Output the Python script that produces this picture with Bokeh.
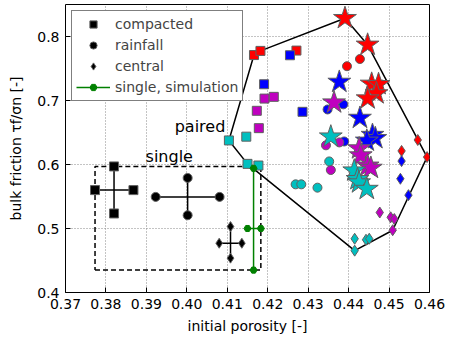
import numpy as np
from bokeh.plotting import figure
from bokeh.models import Range1d, Legend, LegendItem
from bokeh.core.properties import value
from bokeh.embed import file_html
from bokeh.resources import INLINE

# ---------------- data ----------------
colors = {"red": "#ff0000", "blue": "#0000ff", "magenta": "#bf00bf", "cyan": "#00bfbf"}

# paired tests: compacted (squares)
sq_red_x = [0.4166, 0.4182, 0.4271]
sq_red_y = [0.771, 0.7775, 0.778]
sq_blue_x = [0.4255, 0.4191, 0.4286]
sq_blue_y = [0.7707, 0.7254, 0.6823]
sq_mag_x = [0.4192, 0.4215, 0.4173, 0.4178]
sq_mag_y = [0.703, 0.7057, 0.6839, 0.6568]
sq_cyan_x = [0.4147, 0.4104, 0.4150, 0.4177]
sq_cyan_y = [0.6435, 0.6376, 0.601, 0.5984]

# paired tests: rainfall (circles)
ci_red_x = [0.4396, 0.4428]
ci_red_y = [0.7536, 0.7648]
ci_blue_x = [0.4348, 0.4387, 0.4389]
ci_blue_y = [0.686, 0.694, 0.636]
ci_mag_x = [0.4344, 0.4377, 0.4356]
ci_mag_y = [0.630, 0.6345, 0.5914]
ci_cyan_x = [0.4352, 0.4269, 0.4283, 0.4323]
ci_cyan_y = [0.6048, 0.569, 0.569, 0.5638]

# paired tests: central (diamonds)
di_red_x = [0.4571, 0.4531, 0.4594]
di_red_y = [0.6383, 0.6212, 0.6116]
di_blue_x = [0.4531, 0.4528, 0.4548]
di_blue_y = [0.6053, 0.5777, 0.5521]
di_mag_x = [0.4477, 0.4504, 0.4513, 0.4509]
di_mag_y = [0.525, 0.5175, 0.5148, 0.4973]
di_cyan_x = [0.4415, 0.4443, 0.4451, 0.4415]
di_cyan_y = [0.484, 0.4824, 0.484, 0.4654]

# paired simulations (stars)
st_red_x = [0.4391, 0.4447, 0.4457, 0.4474, 0.4469, 0.4447]
st_red_y = [0.8286, 0.787, 0.726, 0.7254, 0.711, 0.703]
st_blue_x = [0.4377, 0.4428, 0.4459, 0.4466, 0.4445]
st_blue_y = [0.729, 0.6727, 0.646, 0.641, 0.637]
st_mag_x = [0.4364, 0.4426, 0.4430, 0.4447, 0.4455]
st_mag_y = [0.6967, 0.625, 0.614, 0.598, 0.5946]
st_cyan_x = [0.4356, 0.4414, 0.4422, 0.4426, 0.4445]
st_cyan_y = [0.6435, 0.5904, 0.577, 0.5718, 0.5617]

# single tests (compacted, rainfall, central): centre and error bounds
single_x = [0.3820, 0.4002, 0.4108]
single_y = [0.5600, 0.5494, 0.4770]
single_x_lo = [0.3773, 0.3923, 0.4080]
single_x_hi = [0.3868, 0.4081, 0.4136]
single_y_lo = [0.5235, 0.5207, 0.4537]
single_y_hi = [0.5970, 0.5790, 0.5030]

# single simulation
sim_x = [0.4165]
sim_y = [0.5000]
sim_x_lo = [0.4150]
sim_x_hi = [0.4183]
sim_y_lo = [0.4350]
sim_y_hi = [0.5940]

label_text = ["paired", "single"]
label_x = [0.3970, 0.3898]
label_y = [0.6600, 0.6120]

x_ticks = [0.37, 0.38, 0.39, 0.40, 0.41, 0.42, 0.43, 0.44, 0.45, 0.46]
y_ticks = [0.4, 0.5, 0.6, 0.7, 0.8]

# ---------------- figure ----------------
FONT = "DejaVu Sans"
p = figure(width=448, height=336, output_backend="svg", toolbar_location=None,
           x_range=Range1d(0.37, 0.46), y_range=Range1d(0.4, 0.85),
           min_border_left=65, min_border_right=19, min_border_top=4, min_border_bottom=43)
p.outline_line_color = "black"
p.outline_line_width = 1
p.background_fill_color = "white"
p.border_fill_color = "white"

p.xaxis.ticker = x_ticks
p.yaxis.ticker = y_ticks
p.xaxis.major_label_overrides = {t: f"{t:.2f}" for t in x_ticks}
p.yaxis.major_label_overrides = {t: f"{t:.1f}" for t in y_ticks}
for ax in (p.xaxis, p.yaxis):
    ax.axis_line_color = None
    ax.major_tick_in = 5
    ax.major_tick_out = 0
    ax.minor_tick_line_color = None
    ax.major_label_text_font = FONT
    ax.major_label_text_font_size = "14px"
    ax.major_label_text_color = "black"
    ax.axis_label_text_font = FONT
    ax.axis_label_text_font_size = "14px"
    ax.axis_label_text_font_style = "normal"
    ax.axis_label_text_color = "black"
p.xaxis.axis_label = "initial porosity [-]"
p.yaxis.axis_label = "bulk friction τf/σn [-]"
p.xaxis.major_label_standoff = 6
p.yaxis.major_label_standoff = 6
p.xaxis.axis_label_standoff = 6
p.yaxis.axis_label_standoff = 10

for g in (p.xgrid, p.ygrid):
    g.grid_line_color = "#888888"
    g.grid_line_dash = "1 2"
    g.grid_line_width = 1

# ---------------- convex hull of paired data ----------------
all_x = np.array(sq_red_x + sq_blue_x + sq_mag_x + sq_cyan_x + ci_red_x + ci_blue_x + ci_mag_x + ci_cyan_x
                 + di_red_x + di_blue_x + di_mag_x + di_cyan_x + st_red_x + st_blue_x + st_mag_x + st_cyan_x)
all_y = np.array(sq_red_y + sq_blue_y + sq_mag_y + sq_cyan_y + ci_red_y + ci_blue_y + ci_mag_y + ci_cyan_y
                 + di_red_y + di_blue_y + di_mag_y + di_cyan_y + st_red_y + st_blue_y + st_mag_y + st_cyan_y)

def convex_hull(xs, ys):
    pts = sorted(set(zip(xs.tolist(), ys.tolist())))
    def cross(o, a, b):
        return (a[0] - o[0]) * (b[1] - o[1]) - (a[1] - o[1]) * (b[0] - o[0])
    lower, upper = [], []
    for pt in pts:
        while len(lower) >= 2 and cross(lower[-2], lower[-1], pt) <= 0:
            lower.pop()
        lower.append(pt)
    for pt in reversed(pts):
        while len(upper) >= 2 and cross(upper[-2], upper[-1], pt) <= 0:
            upper.pop()
        upper.append(pt)
    hull = lower[:-1] + upper[:-1]
    hull.append(hull[0])
    return [h[0] for h in hull], [h[1] for h in hull]

hx, hy = convex_hull(all_x, all_y)
p.line(hx, hy, line_color="black", line_width=1.5)

# bounding box of single data (dashed)
bx0 = min(single_x_lo + sim_x_lo)
bx1 = max(single_x_hi + sim_x_hi)
by0 = min(single_y_lo + sim_y_lo)
by1 = max(single_y_hi + sim_y_hi)
p.line([bx0, bx1, bx1, bx0, bx0], [by0, by0, by1, by1, by0], line_color="black",
       line_width=1.5, line_dash="5 3")

# ---------------- paired markers ----------------
EDGE = "#606060"
groups = [
    ("square", 9, [(sq_red_x, sq_red_y, "red"), (sq_blue_x, sq_blue_y, "blue"),
                   (sq_mag_x, sq_mag_y, "magenta"), (sq_cyan_x, sq_cyan_y, "cyan")]),
    ("circle", 9, [(ci_red_x, ci_red_y, "red"), (ci_blue_x, ci_blue_y, "blue"),
                   (ci_mag_x, ci_mag_y, "magenta"), (ci_cyan_x, ci_cyan_y, "cyan")]),
    ("diamond", 11, [(di_red_x, di_red_y, "red"), (di_blue_x, di_blue_y, "blue"),
                     (di_mag_x, di_mag_y, "magenta"), (di_cyan_x, di_cyan_y, "cyan")]),
    ("star", 24, [(st_red_x, st_red_y, "red"), (st_blue_x, st_blue_y, "blue"),
                  (st_mag_x, st_mag_y, "magenta"), (st_cyan_x, st_cyan_y, "cyan")]),
]
for marker, size, sets in groups:
    for xs, ys, c in sets:
        p.scatter(xs, ys, marker=marker, size=size, fill_color=colors[c],
                  line_color=EDGE, line_width=1)

# ---------------- single tests (error crosses) ----------------
single_markers = ["square", "circle", "diamond"]
single_names = ["compacted", "rainfall", "central"]
legend_items = []
for i in range(3):
    p.segment(x0=[single_x_lo[i], single_x[i]], y0=[single_y[i], single_y_lo[i]],
              x1=[single_x_hi[i], single_x[i]], y1=[single_y[i], single_y_hi[i]],
              line_color="black", line_width=1.5)
    ex = [single_x_lo[i], single_x_hi[i], single_x[i], single_x[i]]
    ey = [single_y[i], single_y[i], single_y_lo[i], single_y_hi[i]]
    r = p.scatter(ex, ey, marker=single_markers[i], size=9 if i < 2 else 10,
                  fill_color="black", line_color=EDGE, line_width=1)
    legend_items.append(LegendItem(label=single_names[i], renderers=[r]))

# single simulation (green)
GREEN = "#008000"
sim_seg = p.segment(x0=[sim_x_lo[0], sim_x[0]], y0=[sim_y[0], sim_y_lo[0]],
                    x1=[sim_x_hi[0], sim_x[0]], y1=[sim_y[0], sim_y_hi[0]],
                    line_color=GREEN, line_width=1.5)
sim_pts = p.scatter([sim_x_lo[0], sim_x_hi[0], sim_x[0], sim_x[0]],
                    [sim_y[0], sim_y[0], sim_y_lo[0], sim_y_hi[0]],
                    marker="hex", size=7, fill_color=GREEN, line_color=GREEN)
legend_items.append(LegendItem(label="single, simulation", renderers=[sim_seg, sim_pts]))

# labels
p.text(label_x, label_y, text=label_text, text_font=value(FONT), text_font_size="16px",
       text_baseline="middle", text_align="left", text_color="black")

legend = Legend(items=legend_items, location="top_left")
legend.label_text_font = FONT
legend.label_text_font_size = "14px"
legend.border_line_color = "black"
legend.border_line_width = 1
legend.background_fill_color = "white"
legend.background_fill_alpha = 1
legend.margin = 6
legend.padding = 4
legend.spacing = 3
legend.glyph_width = 34
legend.glyph_height = 18
legend.label_height = 18
legend.label_standoff = 5
p.add_layout(legend)

open("out.html", "w").write(file_html(p, INLINE))
